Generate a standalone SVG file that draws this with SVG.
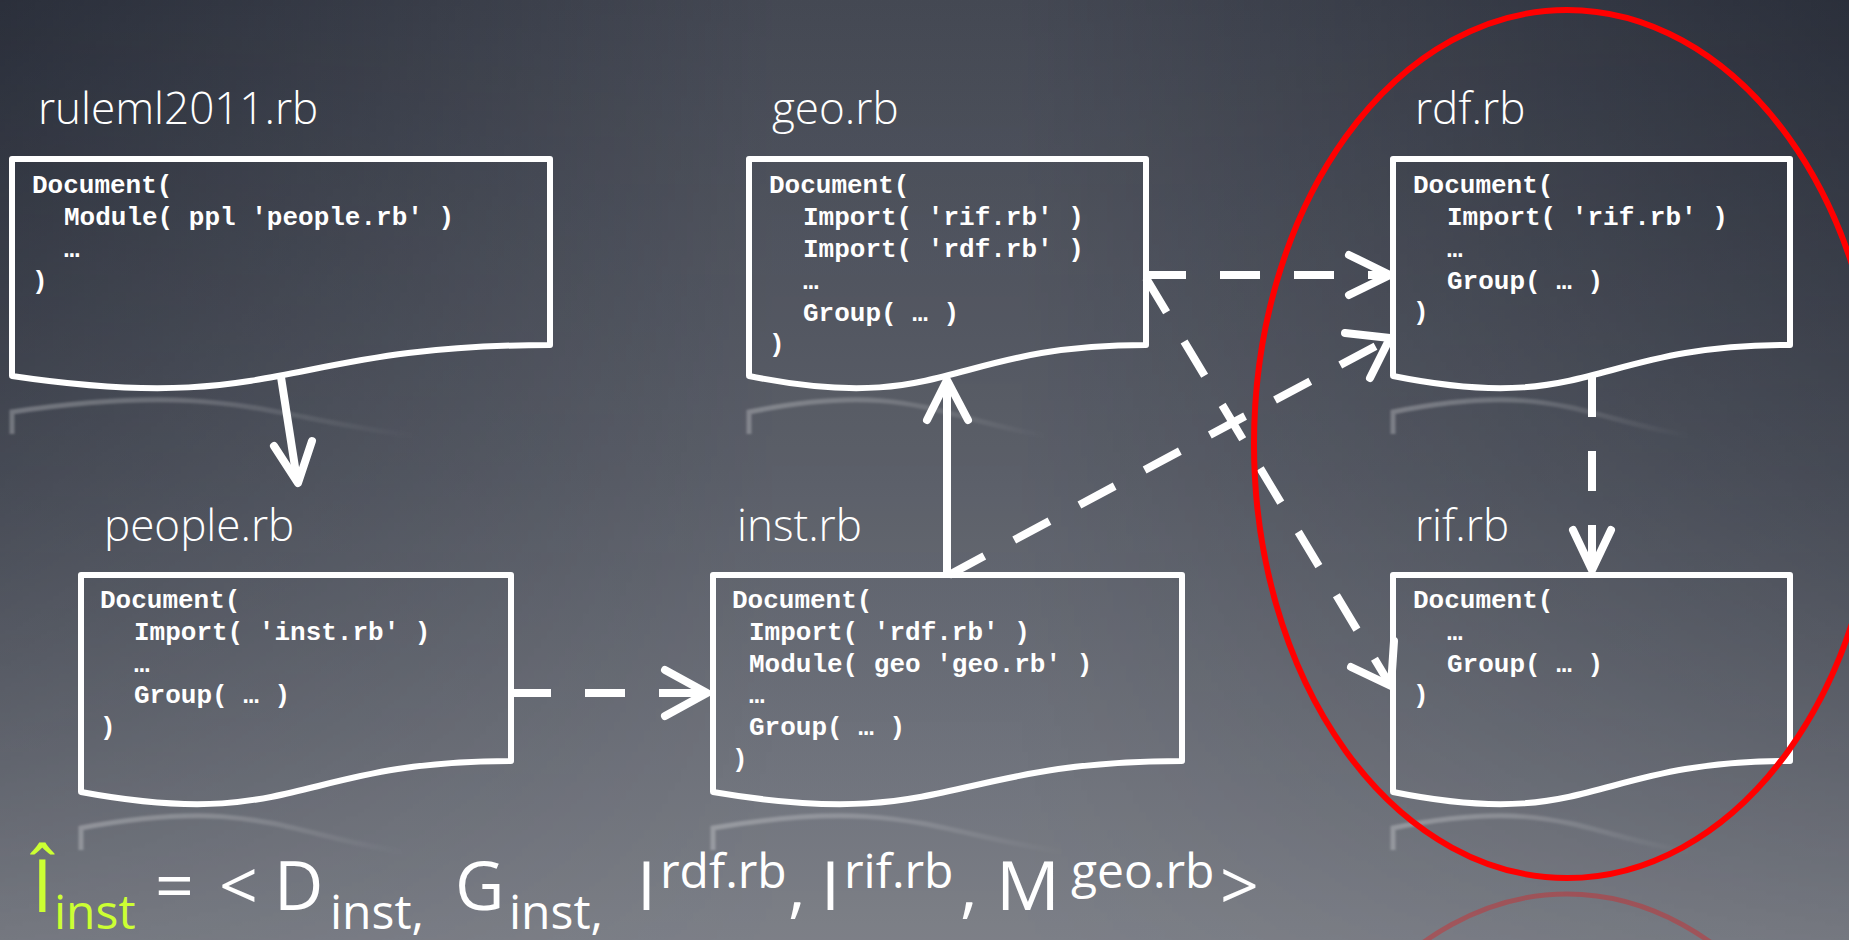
<svg xmlns="http://www.w3.org/2000/svg" width="1849" height="940" viewBox="0 0 1849 940">
<defs>
<style>
.doc{fill:none;stroke:#fff;stroke-width:6;stroke-linejoin:round}
.refl{fill:none;stroke:url(#reflGrad);stroke-width:5;filter:url(#soft)}
.code{font-family:"Liberation Mono","Courier New",monospace;font-weight:bold;font-size:26px;fill:#fff}
.title{font-family:"Open Sans","Noto Sans",sans-serif;font-weight:300;font-size:44px;fill:#fff}
.conn{fill:none;stroke:#fff;stroke-width:8}
.dash{stroke-dasharray:40 34}
.head{fill:none;stroke:#fff;stroke-width:8;stroke-linecap:round;stroke-linejoin:round}
.eq{font-family:"Open Sans","Noto Sans",sans-serif;fill:#fff}
.big{font-size:68px}
.small{font-size:48px}
.hl{fill:#ccff33}
</style>
<filter id="soft" x="-5%" y="-20%" width="110%" height="140%">
<feGaussianBlur stdDeviation="0.8"/>
</filter>
<linearGradient id="bgV" x1="0" y1="0" x2="0" y2="1">
<stop offset="0" stop-color="#474b56"/>
<stop offset="0.5" stop-color="#5d616b"/>
<stop offset="1" stop-color="#7e8189"/>
</linearGradient>
<linearGradient id="bgH" x1="0" y1="0" x2="1" y2="0">
<stop offset="0" stop-color="#141925" stop-opacity="0.55"/>
<stop offset="0.42" stop-color="#141925" stop-opacity="0.05"/>
<stop offset="0.55" stop-color="#141925" stop-opacity="0.05"/>
<stop offset="1" stop-color="#141925" stop-opacity="0.55"/>
</linearGradient>
<linearGradient id="maskGrad" x1="0" y1="0" x2="0" y2="1">
<stop offset="0" stop-color="#fff"/>
<stop offset="1" stop-color="#fff" stop-opacity="0.15"/>
</linearGradient>
<mask id="fadeMask" maskUnits="userSpaceOnUse" x="0" y="0" width="1849" height="940">
<rect x="0" y="0" width="1849" height="940" fill="url(#maskGrad)"/>
</mask>
<linearGradient id="reflGrad" x1="0" y1="0" x2="1" y2="0">
<stop offset="0" stop-color="#fff" stop-opacity="0.26"/>
<stop offset="0.3" stop-color="#fff" stop-opacity="0.2"/>
<stop offset="0.75" stop-color="#fff" stop-opacity="0"/>
</linearGradient>
</defs>

<rect x="0" y="0" width="1849" height="940" fill="url(#bgV)"/>
<rect x="0" y="0" width="1849" height="940" fill="url(#bgH)" mask="url(#fadeMask)"/>

<g id="reflections">
<path class="refl" d="M12 434 V412 C281 372 281 443 550 443"/>
<path class="refl" d="M749 434 V412 C947.5 372 947.5 443 1146 443"/>
<path class="refl" d="M1393 434 V412 C1591.5 372 1591.5 443 1790 443"/>
<path class="refl" d="M81 850 V828 C296 788 296 859 511 859"/>
<path class="refl" d="M713 850 V828 C947.5 788 947.5 859 1182 859"/>
<path class="refl" d="M1393 850 V828 C1591.5 788 1591.5 859 1790 859"/>
<ellipse cx="1567" cy="1328" rx="313" ry="434" fill="none" stroke="#ff0000" stroke-opacity="0.3" stroke-width="5"/>
</g>

<g id="node-ruleml2011">
<text class="title" x="38" y="124">ruleml2011.rb</text>
<path class="doc" d="M12 159 H550 V345 C281 345 281 416 12 376 Z"/>
<text class="code" x="32" y="193">Document(</text>
<text class="code" x="64" y="225">Module( ppl 'people.rb' )</text>
<text class="code" x="64" y="257">…</text>
<text class="code" x="32" y="289">)</text>
</g>

<g id="node-geo">
<text class="title" x="772" y="124">geo.rb</text>
<path class="doc" d="M749 159 H1146 V345 C947.5 345 947.5 416 749 376 Z"/>
<text class="code" x="769" y="193">Document(</text>
<text class="code" x="803" y="225">Import( 'rif.rb' )</text>
<text class="code" x="803" y="257">Import( 'rdf.rb' )</text>
<text class="code" x="803" y="289">…</text>
<text class="code" x="803" y="321">Group( … )</text>
<text class="code" x="769" y="352">)</text>
</g>

<g id="node-rdf">
<text class="title" x="1415" y="124">rdf.rb</text>
<path class="doc" d="M1393 159 H1790 V345 C1591.5 345 1591.5 416 1393 376 Z"/>
<text class="code" x="1413" y="193">Document(</text>
<text class="code" x="1447" y="225">Import( 'rif.rb' )</text>
<text class="code" x="1447" y="257">…</text>
<text class="code" x="1447" y="289">Group( … )</text>
<text class="code" x="1413" y="320">)</text>
</g>

<g id="node-people">
<text class="title" x="104" y="541">people.rb</text>
<path class="doc" d="M81 575 H511 V761 C296 761 296 832 81 792 Z"/>
<text class="code" x="100" y="608">Document(</text>
<text class="code" x="134" y="640">Import( 'inst.rb' )</text>
<text class="code" x="134" y="672">…</text>
<text class="code" x="134" y="703">Group( … )</text>
<text class="code" x="100" y="735">)</text>
</g>

<g id="node-inst">
<text class="title" x="737" y="541">inst.rb</text>
<path class="doc" d="M713 575 H1182 V761 C947.5 761 947.5 832 713 792 Z"/>
<text class="code" x="732" y="608">Document(</text>
<text class="code" x="749" y="640">Import( 'rdf.rb' )</text>
<text class="code" x="749" y="672">Module( geo 'geo.rb' )</text>
<text class="code" x="749" y="703">…</text>
<text class="code" x="749" y="735">Group( … )</text>
<text class="code" x="732" y="767">)</text>
</g>

<g id="node-rif">
<text class="title" x="1415" y="541">rif.rb</text>
<path class="doc" d="M1393 575 H1790 V761 C1591.5 761 1591.5 832 1393 792 Z"/>
<text class="code" x="1413" y="608">Document(</text>
<text class="code" x="1447" y="640">…</text>
<text class="code" x="1447" y="672">Group( … )</text>
<text class="code" x="1413" y="703">)</text>
</g>

<g id="connectors">
<line class="conn" x1="281" y1="377" x2="297" y2="480"/>
<polyline class="head" points="274,446 298,483 312,441"/>
<line class="conn" x1="947" y1="575" x2="947" y2="382"/>
<polyline class="head" points="927,420 947,380 968,420"/>
<line class="conn dash" x1="511" y1="693" x2="704" y2="693"/>
<polyline class="head" points="665,670 707,693 665,716"/>
<line class="conn dash" x1="1146" y1="275" x2="1388" y2="275"/>
<polyline class="head" points="1349,255 1390,275 1349,295"/>
<line class="conn dash" x1="1146" y1="278" x2="1389" y2="683"/>
<polyline class="head" points="1351,667 1391,686 1394,641"/>
<line class="conn dash" x1="949" y1="575" x2="1387" y2="340"/>
<polyline class="head" points="1345,333 1390,338 1370,378"/>
<line class="conn dash" x1="1592" y1="377" x2="1592" y2="568"/>
<polyline class="head" points="1573,530 1592,570 1611,530"/>
</g>

<g id="equation">
<text class="eq hl" x="32" y="912" font-size="74">Î</text>
<text class="eq hl small" x="54" y="929">inst</text>
<text class="eq big" x="155" y="910">=</text>
<text class="eq big" x="219" y="910">&lt;</text>
<text class="eq big" x="274" y="910">D</text>
<text class="eq small" x="330" y="929">inst,</text>
<text class="eq big" x="455" y="910">G</text>
<text class="eq small" x="509" y="929">inst,</text>
<text class="eq big" x="637" y="910">I</text>
<text class="eq small" x="660" y="888">rdf.rb</text>
<text class="eq big" x="788" y="910">,</text>
<text class="eq big" x="821" y="910">I</text>
<text class="eq small" x="844" y="888">rif.rb</text>
<text class="eq big" x="960" y="910">,</text>
<text class="eq big" x="996" y="910" textLength="64" lengthAdjust="spacingAndGlyphs">M</text>
<text class="eq small" x="1071" y="888">geo.rb</text>
<text class="eq big" x="1220" y="910">&gt;</text>
</g>

<ellipse id="highlight" cx="1567" cy="444" rx="313" ry="434" fill="none" stroke="#ff0000" stroke-width="6"/>
</svg>
